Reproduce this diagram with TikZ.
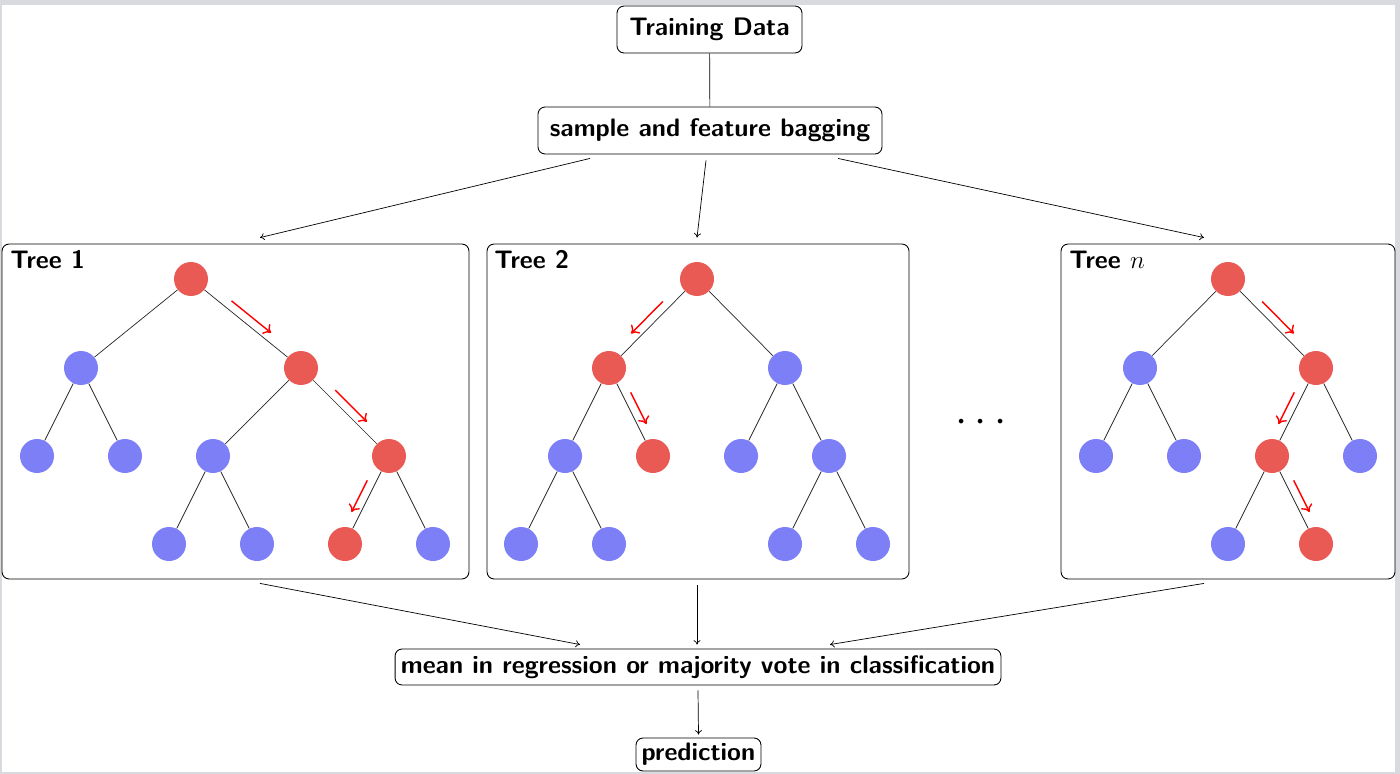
\documentclass[tikz,border=0pt]{standalone}
\usetikzlibrary{calc,arrows.meta}
\definecolor{nred}{RGB}{234,90,85}
\definecolor{nblue}{RGB}{124,127,245}
\definecolor{framegray}{RGB}{216,218,223}
\newcommand{\redarr}[3]{\draw[redarrow] ($(#1)!0.32!(#2)!0.17cm!#3:(#2)$) -- ($(#1)!0.68!(#2)!0.17cm!-#3:(#1)$);}
\begin{document}
\begin{tikzpicture}[x=0.02cm,y=-0.02cm,
  box/.style={draw, rounded corners=4pt, line width=0.5pt, inner sep=0pt, align=center},
  boxtext/.style={font=\fontsize{14.4}{17}\selectfont\sffamily\bfseries},
  treebox/.style={draw, rounded corners=4pt, line width=0.5pt, inner sep=0pt},
  treelabel/.style={anchor=base west, inner sep=0pt, font=\fontsize{14.4}{17}\selectfont\sffamily\bfseries},
  nd/.style={circle, minimum size=0.68cm, inner sep=0pt},
  rn/.style={nd, fill=nred},
  bn/.style={nd, fill=nblue},
  edge/.style={line width=0.4pt, draw=black!85},
  conn/.style={line width=0.4pt, -{To[length=2.5pt,width=4pt]}},
  redarrow/.style={draw=red, line width=0.8pt, -{To[length=4pt,width=7pt]}}
  ]
% frame
\fill[framegray] (0,0) rectangle (1400,774);
\fill[white] (2,5) rectangle (1395,772);
\useasboundingbox (0,0) rectangle (1400,774);

% main boxes
\node[box, boxtext, minimum width=3.7cm, minimum height=0.94cm] (td) at (709.5,29.5) {Training Data};
\node[box, boxtext, minimum width=6.88cm, minimum height=0.94cm] (bag) at (710,130.5) {sample and feature bagging};
\node[treebox, minimum width=9.34cm, minimum height=6.7cm] (t1) at (235.5,411.5) {};
\node[treebox, minimum width=8.44cm, minimum height=6.7cm] (t2) at (698,411.5) {};
\node[treebox, minimum width=6.68cm, minimum height=6.7cm] (tn) at (1228,411.5) {};
\node[box, boxtext, minimum width=12.12cm, minimum height=0.72cm] (mean) at (698,667) {mean in regression or majority vote in classification};
\node[box, boxtext, minimum width=2.5cm, minimum height=0.66cm] (pred) at (698.5,754.5) {prediction};

\node[treelabel] (l1) at (10,268) {Tree 1};
\node[treelabel] (l2) at (494,268) {Tree 2};
\node[treelabel] (ln) at (1069,268) {Tree $n$};

\node[inner sep=0pt, font=\fontsize{28}{30}\selectfont] (dots) at (981,423) {$\cdots$};

% connectors
\draw[line width=0.4pt] (td) -- (bag);
\draw[conn] ($(bag.south)+(-120,4)$) -- ($(t1.north)+(24.5,-6)$);
\draw[conn] ($(bag.south)+(-4,6)$) -- ($(t2.north)+(-1,-6)$);
\draw[conn] ($(bag.south)+(128,4)$) -- ($(tn.north)+(-24,-6)$);
\draw[conn] ($(t1.south)+(24.5,4)$) -- ($(mean.north)+(-118,-4)$);
\draw[conn] ($(t2.south)+(-1,6)$) -- ($(mean.north)+(-1,-4)$);
\draw[conn] ($(tn.south)+(-24,4)$) -- ($(mean.north)+(132,-4)$);
\draw[conn] ($(mean.south)+(0,5)$) -- ($(pred.north)+(0,-3)$);

% Tree 1
\node[rn] (a1) at (191,279) {};
\node[bn] (a2) at (81,368) {};
\node[rn] (a3) at (301,368) {};
\node[bn] (a4) at (37,456) {};
\node[bn] (a5) at (125,456) {};
\node[bn] (a6) at (213,456) {};
\node[rn] (a7) at (389,456) {};
\node[bn] (a8) at (169,544) {};
\node[bn] (a9) at (257,544) {};
\node[rn] (a10) at (345,544) {};
\node[bn] (a11) at (433,544) {};
\foreach \p/\c in {a1/a2,a1/a3,a2/a4,a2/a5,a3/a6,a3/a7,a6/a8,a6/a9,a7/a10,a7/a11}
  \draw[edge] (\p) -- (\c);
\redarr{a1}{a3}{90}
\redarr{a3}{a7}{90}
\redarr{a7}{a10}{-90}

% Tree 2
\node[rn] (b1) at (697,279) {};
\node[rn] (b2) at (609,368) {};
\node[bn] (b3) at (785,368) {};
\node[bn] (b4) at (565,456) {};
\node[rn] (b5) at (653,456) {};
\node[bn] (b6) at (741,456) {};
\node[bn] (b7) at (829,456) {};
\node[bn] (b8) at (521,544) {};
\node[bn] (b9) at (609,544) {};
\node[bn] (b10) at (785,544) {};
\node[bn] (b11) at (873,544) {};
\foreach \p/\c in {b1/b2,b1/b3,b2/b4,b2/b5,b3/b6,b3/b7,b4/b8,b4/b9,b7/b10,b7/b11}
  \draw[edge] (\p) -- (\c);
\redarr{b1}{b2}{-90}
\redarr{b2}{b5}{90}

% Tree n
\node[rn] (c1) at (1228,279) {};
\node[bn] (c2) at (1140,368) {};
\node[rn] (c3) at (1316,368) {};
\node[bn] (c4) at (1096,456) {};
\node[bn] (c5) at (1184,456) {};
\node[rn] (c6) at (1272,456) {};
\node[bn] (c7) at (1360,456) {};
\node[bn] (c8) at (1228,544) {};
\node[rn] (c9) at (1316,544) {};
\foreach \p/\c in {c1/c2,c1/c3,c2/c4,c2/c5,c3/c6,c3/c7,c6/c8,c6/c9}
  \draw[edge] (\p) -- (\c);
\redarr{c1}{c3}{90}
\redarr{c3}{c6}{-90}
\redarr{c6}{c9}{90}
\end{tikzpicture}
\end{document}
